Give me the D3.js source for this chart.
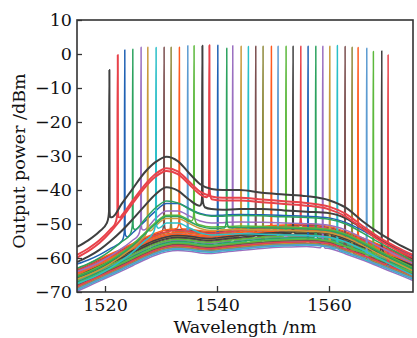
<!DOCTYPE html>
<html>
<head>
<meta charset="utf-8">
<script src="https://cdn.jsdelivr.net/npm/d3@7"></script>
<style>
  body { margin: 0; background: #fff; }
  svg text { font-family: "DejaVu Serif", serif; fill: #111; }
</style>
</head>
<body>
<script>
// wavelength grid (nm) for the ASE background curves
const wlGrid = [1515, 1517, 1519, 1521, 1523, 1525, 1527, 1529, 1531, 1533, 1535, 1537,
  1539, 1541, 1544, 1548, 1552, 1556, 1560, 1563, 1566, 1569, 1572, 1575]

// ASE backgrounds (dBm)
const aseTop = [-56.7, -54.8, -52.2, -48.5, -44, -39.5, -35, -31.8, -30.2, -31.5, -35, -38.3,
  -39.7, -40, -40, -40.8, -41.3, -41.8, -43, -45.2, -49.2, -52.7, -55.6, -58.1]
const aseRed = [-59.1, -57.2, -54.8, -51.5, -47.5, -43, -38.7, -35.3, -33.6, -34.5, -37.5, -40.5,
  -41.9, -42.3, -42.3, -42.8, -43.3, -43.8, -44.9, -47, -50.6, -54, -56.7, -59.1]
const aseGray = [-61.2, -59.6, -57.6, -55, -52, -48.5, -44.8, -41.3, -39.2, -40.2, -42.8, -44.7,
  -45.6, -45.8, -45.6, -45.6, -46, -46.4, -46.8, -48.3, -51.3, -54.5, -57.4, -60.1]
const aseGreen = [-63, -61.7, -60, -57.8, -55.2, -52.3, -48.8, -45.3, -43.2, -43.8, -45.6, -47.1,
  -47.7, -47.7, -47.5, -47.6, -47.9, -48.1, -48.6, -50, -52.6, -55.5, -58.2, -61]
const aseMid = [-64, -62.8, -61.3, -59.4, -57.2, -54.7, -51.6, -48.4, -46.2, -46.2, -47.6, -49.1,
  -49.7, -49.6, -49.4, -49.5, -49.7, -49.9, -50.4, -51.8, -54.1, -56.7, -59.2, -61.6]
const aseLow = [-69.8, -68.3, -66.8, -65.3, -63.8, -62.2, -60.6, -59.2, -58.2, -57.8, -58, -58.5,
  -58.7, -58.3, -57.8, -57.2, -56.8, -56.6, -57.2, -58.8, -60.6, -62.6, -64.6, -66.6]
const aseCurves = { top: aseTop, red: aseRed, gray: aseGray, green: aseGreen, mid: aseMid, low: aseLow }

// laser channels: wavelength (nm), peak power (dBm), background curve, level shift (dB)
const channelWl = [1520.77, 1522.27, 1523.52, 1524.95, 1526.43, 1527.63, 1529.11, 1530.54, 1531.79,
  1533.27, 1534.77, 1535.89, 1537.38, 1538.63, 1540.13, 1541.73, 1542.8, 1544.29, 1545.59,
  1546.91, 1548.21, 1549.7, 1550.89, 1552.32, 1553.57, 1554.95, 1556.25, 1557.63, 1558.88,
  1560.13, 1561.48, 1562.86, 1564.11, 1565.18, 1566.73, 1567.91, 1569.41, 1570.54]
const channelPeak = [-4.7, -0.3, 1.2, 1.4, 2.0, 2.0, 1.9, 2.0, 2.0, 2.0, 2.4, 2.4, 2.4, 2.6, 2.6,
  1.7, 2.4, 2.3, 2.2, 2.3, 2.3, 2.3, 2.3, 2.3, 2.3, 2.3, 2.3, 2.3, 2.3, 2.3, 2.5, 2.2, 2.0, 1.9,
  1.7, 0.7, 0.9, -0.3]
const channelBase = ['top', 'red', 'mid', 'green', 'mid', 'mid', 'mid', 'low', 'low', 'low', 'low', 'mid',
  'gray', 'red', 'low', 'mid', 'low', 'low', 'low', 'low', 'low', 'low', 'low', 'low', 'low', 'low',
  'low', 'low', 'low', 'low', 'low', 'low', 'low', 'low', 'low', 'low', 'low', 'low']
const channelShift = [0, 0, 2.2, 0, 0, -2.2, -3.5, 6.2, 5.6, 6.5, 5.0, -1.2, 0, -0.8, 4.6, -1.6, 3.0, 4.2,
  2.4, 3.6, 2.0, 5.3, 1.6, 3.3, 3.9, 5.9, 1.2, 2.7, 0, 1.0, 0.4, 1.8, 0.8, 4.8, 0.6, 2.2, 4.4, 1.4]

const colorCycle = ['#404040', '#e8424a', '#2062b4', '#2ca25f', '#9a6fc0', '#c99a3c',
  '#2bbfc8', '#7b4f4f', '#8f8a3c', '#ff5a1f', '#5c9bd1', '#5cb83c']

const xTicks = [1520, 1540, 1560]
const yTicks = [-70, -60, -50, -40, -30, -20, -10, 0, 10]

const width = 417
const height = 338
const margin = { top: 20, right: 4, bottom: 46, left: 77 }
const fontSize = 17.5

const x = d3.scaleLinear().domain([1515, 1575]).range([margin.left, width - margin.right])
const y = d3.scaleLinear().domain([-70, 10]).range([height - margin.bottom, margin.top])

const svg = d3.select('body').append('svg').attr('width', width).attr('height', height)

svg.append('clipPath').attr('id', 'plot')
  .append('rect')
  .attr('x', margin.left).attr('y', margin.top)
  .attr('width', width - margin.left - margin.right)
  .attr('height', height - margin.top - margin.bottom)

// background level at a wavelength (piecewise linear on the grid)
function bgAt(curve, shift, wl) {
  const i = Math.min(d3.bisectRight(wlGrid, wl), wlGrid.length - 1)
  const t = (wl - wlGrid[i - 1]) / (wlGrid[i] - wlGrid[i - 1])
  return curve[i - 1] + t * (curve[i] - curve[i - 1]) + shift
}

// one spectrum = background + narrow laser line with a small pedestal
const spectra = channelWl.map((wl, k) => {
  const curve = aseCurves[channelBase[k]]
  const shift = channelShift[k]
  const pts = wlGrid.map((w, i) => [w, curve[i] + shift]).filter((p) => Math.abs(p[0] - wl) > 0.6)
  const b = (w) => bgAt(curve, shift, w)
  pts.push(
    [wl - 0.45, b(wl - 0.45)],
    [wl - 0.15, b(wl) + 1],
    [wl - 0.06, b(wl) + 2.5],
    [wl - 0.015, channelPeak[k]],
    [wl + 0.015, channelPeak[k]],
    [wl + 0.06, b(wl) + 2.5],
    [wl + 0.15, b(wl) + 1],
    [wl + 0.45, b(wl + 0.45)]
  )
  pts.sort((a, c) => a[0] - c[0])
  return { k, pts }
})

const line = d3.line().x((d) => x(d[0])).y((d) => y(d[1])).curve(d3.curveMonotoneX)

// draw the low ones first so the high backgrounds sit on top
const rank = { low: 0, mid: 1, green: 2, gray: 3, red: 4, top: 5 }
const order = d3.range(spectra.length).sort((a, b) => rank[channelBase[a]] - rank[channelBase[b]] || a - b)

svg.append('g')
  .attr('clip-path', 'url(#plot)')
  .selectAll('path')
  .data(order.map((i) => spectra[i]))
  .join('path')
  .attr('d', (d) => line(d.pts))
  .attr('fill', 'none')
  .attr('stroke', (d) => colorCycle[d.k % colorCycle.length])
  .attr('stroke-width', (d) => (rank[channelBase[d.k]] >= 3 ? 2 : 1.5))
  .attr('stroke-linejoin', 'round')

// axes with inward ticks
const xAxis = svg.append('g')
  .attr('transform', `translate(0,${height - margin.bottom})`)
  .call(d3.axisBottom(x).tickValues(xTicks).tickFormat(d3.format('d')).tickSizeInner(-6).tickSizeOuter(0).tickPadding(7))
const yAxis = svg.append('g')
  .attr('transform', `translate(${margin.left},0)`)
  .call(d3.axisLeft(y).tickValues(yTicks).tickFormat(d3.format('d')).tickSizeInner(-5).tickSizeOuter(0).tickPadding(5))

for (const ax of [xAxis, yAxis]) {
  ax.select('.domain').remove()
  ax.selectAll('line').attr('stroke', '#333').attr('stroke-width', 1.3)
  ax.selectAll('text').attr('font-size', fontSize).attr('font-family', '"DejaVu Serif", serif').attr('fill', '#111')
}

// frame
svg.append('rect')
  .attr('x', margin.left).attr('y', margin.top)
  .attr('width', width - margin.left - margin.right)
  .attr('height', height - margin.top - margin.bottom)
  .attr('fill', 'none')
  .attr('stroke', '#333')
  .attr('stroke-width', 1.6)

svg.append('text')
  .attr('x', (margin.left + width - margin.right) / 2)
  .attr('y', 333)
  .attr('text-anchor', 'middle')
  .attr('font-size', fontSize)
  .text('Wavelength /nm')

svg.append('text')
  .attr('transform', `translate(25,${(margin.top + height - margin.bottom) / 2 + 5}) rotate(-90)`)
  .attr('text-anchor', 'middle')
  .attr('font-size', fontSize)
  .text('Output power /dBm')
</script>
</body>
</html>
